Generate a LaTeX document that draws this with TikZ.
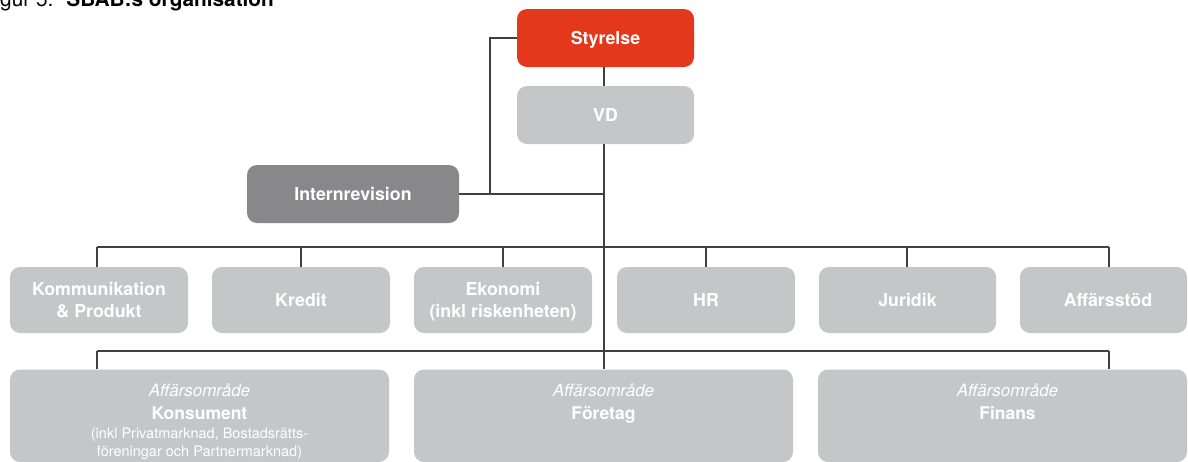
\documentclass[tikz,border=0pt]{standalone}
\usepackage{fontspec}
\setmainfont{TeX Gyre Heros}
\newcommand{\myfs}[2]{\fontsize{#1}{#2}\selectfont}
\definecolor{sbred}{HTML}{E3381B}
\definecolor{sbgrey}{HTML}{C5C6C8}
\definecolor{sbdark}{HTML}{88888A}
\definecolor{sbline}{HTML}{404040}
\tikzset{
  orgbox/.style={rectangle, rounded corners=10pt, inner sep=0pt, draw=none, fill=sbgrey},
  lbl/.style={anchor=base, inner sep=0pt, text=white, font=\myfs{17.8}{21}\bfseries},
  ital/.style={anchor=base, inner sep=0pt, text=white, font=\myfs{17}{20}\itshape},
  bold16/.style={anchor=base, inner sep=0pt, text=white, font=\myfs{17.5}{20}\bfseries},
  small/.style={anchor=base, inner sep=0pt, text=white, font=\myfs{14.5}{17}},
  conn/.style={draw=sbline, line width=1.2pt}
}
\begin{document}
\begin{tikzpicture}[x=1pt,y=-1pt]
\useasboundingbox (0,0) rectangle (1188,461);
\clip (0,0) rectangle (1188,461);
% title
\node[anchor=base west, inner sep=0pt] (title) at (-17.3,6) {\myfs{20.8}{24}Figur 5:\hspace{13pt}\textbf{SBAB:s organisation}};
% top boxes
\node[orgbox, fill=sbred, minimum width=177pt, minimum height=58pt] (sty) at (605.5,38) {};
\node[orgbox, minimum width=177pt, minimum height=58pt] (vd) at (605.5,115) {};
\node[orgbox, fill=sbdark, minimum width=212pt, minimum height=58pt] (ir) at (353,194) {};
% row 2
\node[orgbox, minimum width=178pt, minimum height=66pt] (kom) at (99,300) {};
\node[orgbox, minimum width=178pt, minimum height=66pt] (kre) at (301,300) {};
\node[orgbox, minimum width=178pt, minimum height=66pt] (eko) at (503,300) {};
\node[orgbox, minimum width=178pt, minimum height=66pt] (hr) at (706,300) {};
\node[orgbox, minimum width=177pt, minimum height=66pt] (jur) at (907.5,300) {};
\node[orgbox, minimum width=167pt, minimum height=66pt] (aff) at (1103.5,300) {};
% row 3
\node[orgbox, minimum width=379pt, minimum height=92.5pt] (kon) at (199.5,415.75) {};
\node[orgbox, minimum width=379pt, minimum height=92.5pt] (for) at (603.5,415.75) {};
\node[orgbox, minimum width=369pt, minimum height=92.5pt] (fin) at (1002.5,415.75) {};
% texts
\node[lbl] (tsty) at (605.5,44) {Styrelse};
\node[lbl] (tvd) at (605.5,121.3) {VD};
\node[lbl] (tir) at (353,200.3) {Internrevision};
\node[lbl] (tkom1) at (99,295) {Kommunikation};
\node[lbl] (tkom2) at (99,317) {\& Produkt};
\node[lbl] (tkre) at (301,306.3) {Kredit};
\node[lbl] (teko1) at (503,295) {Ekonomi};
\node[lbl] (teko2) at (503,317) {(inkl riskenheten)};
\node[lbl] (thr) at (706,306.3) {HR};
\node[lbl] (tjur) at (907.5,306.3) {Juridik};
\node[lbl] (taff) at (1108,306.3) {Affärsstöd};
\node[ital] (tkona) at (199.5,396) {Affärsområde};
\node[bold16] (tkonb) at (199.5,419) {Konsument};
\node[small] (tkonc) at (199.5,438) {(inkl Privatmarknad, Bostadsrätts-};
\node[small] (tkond) at (199.5,456) {föreningar och Partnermarknad)};
\node[ital] (tfora) at (603.5,396) {Affärsområde};
\node[bold16] (tforb) at (603.5,419) {Företag};
\node[ital] (tfina) at (1007.5,396) {Affärsområde};
\node[bold16] (tfinb) at (1007.5,419) {Finans};
% connectors
\coordinate (mv) at (604,0);
\coordinate (irj) at (490,194);
\draw[conn] (sty.south -| mv) -- (vd.north -| mv);
\draw[conn] (vd.south -| mv) -- (for.north -| mv);
\draw[conn] (sty.west) -| (irj);
\draw[conn] (ir.east) -- (ir.east -| mv);
% bus row 2
\coordinate (d1) at (97,247);
\coordinate (d2) at (301,247);
\coordinate (d3) at (503,247);
\coordinate (d4) at (706,247);
\coordinate (d5) at (907,247);
\coordinate (d6) at (1109,247);
\draw[conn] (d1) -- (d6);
\draw[conn] (d1) -- (d1 |- kom.north);
\draw[conn] (d2) -- (d2 |- kre.north);
\draw[conn] (d3) -- (d3 |- eko.north);
\draw[conn] (d4) -- (d4 |- hr.north);
\draw[conn] (d5) -- (d5 |- jur.north);
\draw[conn] (d6) -- (d6 |- aff.north);
% bus row 3
\coordinate (b3w) at (97,351);
\coordinate (b3e) at (1109,351);
\draw[conn] (b3w) -- (b3e);
\draw[conn] (b3w) -- (b3w |- kon.north);
\draw[conn] (b3e) -- (b3e |- fin.north);
\end{tikzpicture}
\end{document}
